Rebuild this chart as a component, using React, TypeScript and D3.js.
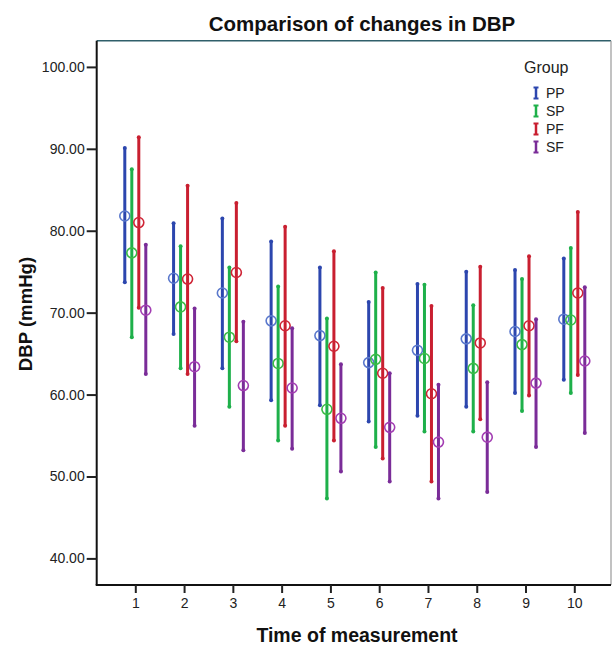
import React, { useRef, useEffect } from "react";
import * as d3 from "d3";

// time points and groups
const times = [1, 2, 3, 4, 5, 6, 7, 8, 9, 10];
const groups = ["PP", "SP", "PF", "SF"];

// means and 95% CI ends
const ppMean = [81.8, 74.2, 72.4, 69.0, 67.2, 63.9, 65.4, 66.8, 67.7, 69.2];
const ppLow = [73.7, 67.4, 63.2, 59.3, 58.7, 56.7, 57.4, 58.5, 60.2, 61.8];
const ppHigh = [90.1, 80.9, 81.5, 78.7, 75.5, 71.3, 73.5, 75.0, 75.2, 76.6];

const spMean = [77.3, 70.7, 67.0, 63.8, 58.2, 64.3, 64.4, 63.2, 66.1, 69.1];
const spLow = [67.0, 63.2, 58.5, 54.4, 47.3, 53.6, 55.5, 55.5, 58.0, 60.2];
const spHigh = [87.5, 78.1, 75.5, 73.2, 69.3, 74.9, 73.4, 70.9, 74.1, 77.9];

const pfMean = [81.0, 74.1, 74.9, 68.4, 65.9, 62.6, 60.1, 66.3, 68.4, 72.4];
const pfLow = [70.6, 62.5, 66.5, 56.2, 54.4, 52.2, 49.4, 57.0, 59.9, 62.4];
const pfHigh = [91.4, 85.5, 83.4, 80.5, 77.5, 73.0, 70.8, 75.6, 76.9, 82.3];

const sfMean = [70.3, 63.4, 61.1, 60.8, 57.1, 56.0, 54.2, 54.8, 61.4, 64.1];
const sfLow = [62.5, 56.2, 53.2, 53.4, 50.6, 49.4, 47.3, 48.1, 53.6, 55.3];
const sfHigh = [78.3, 70.5, 68.9, 68.1, 63.7, 62.6, 61.2, 61.5, 69.2, 73.1];

const yTicks = [40, 50, 60, 70, 80, 90, 100];

const barColors = ["#2c46ae", "#1eb04a", "#c91f30", "#7a2c98"];
const dotColors = ["#5a78cc", "#3abb46", "#cf2536", "#a23db2"];

const series = [
  { mean: ppMean, low: ppLow, high: ppHigh },
  { mean: spMean, low: spLow, high: spHigh },
  { mean: pfMean, low: pfLow, high: pfHigh },
  { mean: sfMean, low: sfLow, high: sfHigh },
];

const font = "'Liberation Sans', Arial, sans-serif";

export default function App() {
  const width = 613;
  const height = 645;
  const left = 96.7;
  const right = 611;
  const top = 40.7;
  const bottom = 585;

  const gx = useRef(null);
  const gy = useRef(null);

  const x = d3.scaleLinear().domain([1, 10]).range([135.3, 574.3]);
  const y = d3.scaleLinear().domain([40, 100]).range([558.4, 66.9]);
  const sub = d3.scaleBand().domain(groups).range([-14, 14]);

  useEffect(() => {
    const ax = d3
      .axisBottom(x)
      .tickValues(times)
      .tickFormat(d3.format("d"))
      .tickSize(8)
      .tickPadding(5);
    const g = d3.select(gx.current).call(ax);
    g.select(".domain").remove();
    g.selectAll("line").attr("stroke", "#222").attr("stroke-width", 2);
    g.selectAll("text")
      .attr("fill", "#222")
      .style("font-size", "14px")
      .style("font-family", font);
  }, []);

  useEffect(() => {
    const ay = d3
      .axisLeft(y)
      .tickValues(yTicks)
      .tickFormat(d3.format(".2f"))
      .tickSize(10)
      .tickPadding(2);
    const g = d3.select(gy.current).call(ay);
    g.select(".domain").remove();
    g.selectAll("line").attr("stroke", "#222").attr("stroke-width", 2);
    g.selectAll("text")
      .attr("fill", "#222")
      .style("font-size", "14px")
      .style("font-family", font);
  }, []);

  return (
    <svg
      width={width}
      height={height}
      style={{ position: "absolute", left: 0, top: 0, background: "#fff" }}
    >
      <rect x={0} y={0} width={width} height={height} fill="#fff" />
      <text
        x={362}
        y={31}
        textAnchor="middle"
        fontFamily={font}
        fontWeight="bold"
        fontSize={20.5}
        fill="#111"
      >
        Comparison of changes in DBP
      </text>

      {/* frame */}
      <line x1={left} y1={top} x2={right} y2={top} stroke="#2f5f6a" strokeWidth={1.5} />
      <line x1={right} y1={top} x2={right} y2={bottom} stroke="#999" strokeWidth={1.2} />
      <line x1={left} y1={top} x2={left} y2={bottom} stroke="#111" strokeWidth={2} />
      <line x1={left - 1} y1={bottom} x2={right} y2={bottom} stroke="#111" strokeWidth={2} />

      <g ref={gx} transform={`translate(0,${bottom})`} />
      <g ref={gy} transform={`translate(${left},0)`} />

      {series.map((s, si) => (
        <g key={groups[si]}>
          {times.map((t, i) => {
            const cx = x(t) + sub(groups[si]) + sub.bandwidth() / 2;
            return (
              <g key={t}>
                <line
                  x1={cx}
                  x2={cx}
                  y1={y(s.low[i])}
                  y2={y(s.high[i])}
                  stroke={barColors[si]}
                  strokeWidth={3}
                />
                <circle cx={cx} cy={y(s.low[i])} r={2} fill={barColors[si]} />
                <circle cx={cx} cy={y(s.high[i])} r={2} fill={barColors[si]} />
                <circle
                  cx={cx}
                  cy={y(s.mean[i])}
                  r={5}
                  fill="none"
                  stroke={dotColors[si]}
                  strokeWidth={1.6}
                />
              </g>
            );
          })}
        </g>
      ))}

      {/* legend */}
      <text x={524} y={73} fontFamily={font} fontSize={16} fill="#222">
        Group
      </text>
      {groups.map((gname, i) => {
        const cy = 93 + i * 18;
        return (
          <g key={gname}>
            <line x1={536} x2={536} y1={cy - 6} y2={cy + 6} stroke={barColors[i]} strokeWidth={2.5} />
            <line x1={533.5} x2={538.5} y1={cy - 5.5} y2={cy - 5.5} stroke={barColors[i]} strokeWidth={2} />
            <line x1={533.5} x2={538.5} y1={cy + 5.5} y2={cy + 5.5} stroke={barColors[i]} strokeWidth={2} />
            <text x={546} y={cy + 5} fontFamily={font} fontSize={14} fill="#222">
              {gname}
            </text>
          </g>
        );
      })}

      <text
        x={357}
        y={642}
        textAnchor="middle"
        fontFamily={font}
        fontWeight="bold"
        fontSize={19.5}
        fill="#111"
      >
        Time of measurement
      </text>
      <text
        transform={`translate(32,314) rotate(-90)`}
        textAnchor="middle"
        fontFamily={font}
        fontWeight="bold"
        fontSize={18.6}
        fill="#111"
      >
        DBP (mmHg)
      </text>
    </svg>
  );
}
